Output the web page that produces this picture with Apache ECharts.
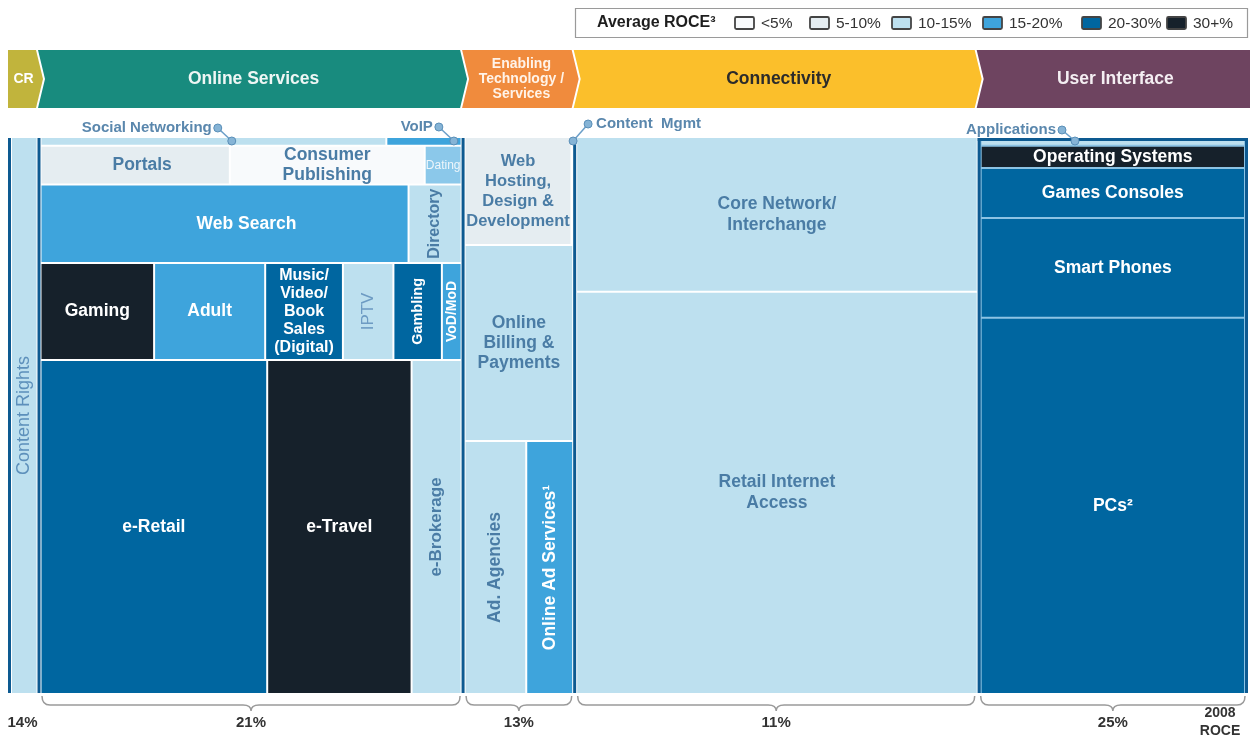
<!DOCTYPE html>
<html>
<head>
<meta charset="utf-8">
<script src="https://cdn.jsdelivr.net/npm/echarts/dist/echarts.min.js"></script>
<style>
  html, body { margin: 0; padding: 0; background: #fff; }
  #chart { width: 1250px; height: 740px; }
</style>
</head>
<body>
<div id="chart"></div>
<script>
const FONT = '"Liberation Sans", Arial, sans-serif';

// ROCE bands (legend)
const bandLabels = ['<5%', '5-10%', '10-15%', '15-20%', '20-30%', '30+%'];
const bandColors = ['#f8fafc', '#e5edf1', '#bde0ef', '#3ea4dc', '#0066a0', '#16212b'];

// value-chain segments
const segments = ['CR', 'Online Services', 'Enabling\nTechnology /\nServices', 'Connectivity', 'User Interface'];
const segmentWidth = [2.5, 34.2, 9.0, 32.5, 21.8];   // share of total width (%)
const segmentRoce = ['14%', '21%', '13%', '11%', '25%'];
const headerColors = ['#c1b43c', '#188b7e', '#f08b3d', '#fbbf2b', '#6e4460'];
const headerTextColors = ['#ffffff', '#eef6f4', '#fff3e8', '#2b2b2b', '#f4eef2'];

// each column: row heights (% of column) and cells per row [name, relative width, ROCE band]
const crRows = [100];
const crCells = [
  [['Content Rights', 1, 2]]
];

const onlineRows = [1.4, 7.0, 14.1, 17.5, 60.0];
const onlineCells = [
  [['Social Networking', 344, 2], ['VoIP', 76, 3]],
  [['Portals', 189, 1], ['Consumer\nPublishing', 193, 0], ['Dating', 38, 3]],
  [['Web Search', 366, 3], ['Directory', 54, 2]],
  [['Gaming', 114, 5], ['Adult', 110, 3], ['Music/\nVideo/\nBook\nSales\n(Digital)', 77, 4], ['IPTV', 50, 2], ['Gambling', 48, 4], ['VoD/MoD', 21, 3]],
  [['e-Retail', 226, 4], ['e-Travel', 143, 5], ['e-Brokerage', 51, 2]]
];

const enablingRows = [19.3, 35.3, 45.4];
const enablingCells = [
  [['Web\nHosting,\nDesign &\nDevelopment', 103, 1], ['Content Mgmt', 3, 0]],
  [['Online\nBilling &\nPayments', 1, 2]],
  [['Ad. Agencies', 60, 2], ['Online Ad Services¹', 46, 3]]
];

const connectivityRows = [27.7, 72.3];
const connectivityCells = [
  [['Core Network/\nInterchange', 1, 2]],
  [['Retail Internet\nAccess', 1, 2]]
];

const uiRows = [1.4, 4.0, 9.0, 18.0, 67.6];
const uiCells = [
  [['Applications', 1, 2]],
  [['Operating Systems', 1, 5]],
  [['Games Consoles', 1, 4]],
  [['Smart Phones', 1, 4]],
  [['PCs²', 1, 4]]
];

// small segments labelled outside: [label, cell, position along the cell]
const callouts = [
  ['Social Networking', 'Social Networking', 0.555],
  ['VoIP', 'VoIP', 0.88],
  ['Content  Mgmt', 'Content Mgmt', 0.5],
  ['Applications', 'Applications', 0.36]
];

// ---- layout in data units (x: % of width, y: % of height) ----
const columnRows = [crRows, onlineRows, enablingRows, connectivityRows, uiRows];
const columnCells = [crCells, onlineCells, enablingCells, connectivityCells, uiCells];
const colStart = [];
segmentWidth.reduce((acc, w, i) => { colStart[i] = acc; return acc + w; }, 0);

const cellList = [];
columnCells.forEach((rows, c) => {
  const rowTotal = columnRows[c].reduce((a, b) => a + b, 0);
  let y = 0;
  rows.forEach((row, r) => {
    const h = columnRows[c][r] / rowTotal * 100;
    const wTotal = row.reduce((a, d) => a + d[1], 0);
    let x = colStart[c];
    row.forEach(([name, w, band]) => {
      const cw = w / wTotal * segmentWidth[c];
      cellList.push({ name, band, col: c, row: r, last: r === rows.length - 1, value: [x, x + cw, y, y + h] });
      x += cw;
    });
    y += h;
  });
});

const hiddenLabels = callouts.map(c => c[1]);
const labelStyle = {
  'Content Rights': { rotate: true, size: 18, weight: 'normal', color: '#5d90bb' },
  'Portals': { dx: 7 },
  'Web Search': { dx: 22 },
  'Dating': { size: 12, color: '#eef6fb', weight: 'normal' },
  'Directory': { rotate: true, size: 16 },
  'Music/\nVideo/\nBook\nSales\n(Digital)': { size: 16, lh: 18 },
  'IPTV': { rotate: true, size: 17, weight: 'normal', color: '#6d9bc3' },
  'Gambling': { rotate: true, size: 14.5 },
  'VoD/MoD': { rotate: true, size: 14 },
  'e-Brokerage': { rotate: true, size: 17 },
  'Ad. Agencies': { rotate: true, size: 17.5 },
  'Online Ad Services¹': { rotate: true, size: 17.5 },
  'Web\nHosting,\nDesign &\nDevelopment': { size: 16.5, lh: 20 },
  'Online\nBilling &\nPayments': { size: 17.5, lh: 20 },
  'Consumer\nPublishing': { size: 17.5, lh: 20 },
  'Core Network/\nInterchange': { size: 17.5, lh: 21 },
  'Retail Internet\nAccess': { size: 17.5, lh: 21 }
};

const padL = [3, 1.5, 1.5, 1.5, 3];
const padR = [1.5, 1.5, 1.5, 0, 3];
const padT = [0, 0, 0, 0, 3];
const DARK = '#0d5a91';

function colPx(api, c) {
  const a = api.coord([colStart[c], 0]);
  const b = api.coord([colStart[c] + segmentWidth[c], 100]);
  return { left: a[0], right: b[0], top: a[1], bottom: b[1] };
}

function renderCell(params, api) {
  const d = cellList[params.dataIndex];
  const col = colPx(api, d.col);
  const a = api.coord([d.value[0], d.value[2]]);
  const b = api.coord([d.value[1], d.value[3]]);
  const left = Math.max(a[0], col.left + padL[d.col]) + 1;
  const right = Math.min(b[0], col.right - padR[d.col]) - 1;
  const top = d.row === 0 ? col.top + padT[d.col] : a[1] + 1;
  const bottom = d.last ? b[1] : b[1] - 1;
  const st = labelStyle[d.name] || {};
  const children = [{
    type: 'rect',
    shape: { x: left, y: top, width: Math.max(0, right - left), height: Math.max(0, bottom - top) },
    style: { fill: bandColors[d.band], opacity: d.name === 'Dating' ? 0.6 : 1 }
  }];
  if (hiddenLabels.indexOf(d.name) < 0) {
    const size = st.size || 17.5;
    children.push({
      type: 'text',
      x: (left + right) / 2 + (st.dx || 0),
      y: (top + bottom) / 2,
      rotation: st.rotate ? Math.PI / 2 : 0,
      style: {
        text: d.name,
        fill: st.color || (d.band <= 2 ? '#4a7ca5' : '#ffffff'),
        fontFamily: FONT, fontSize: size, fontWeight: st.weight || 'bold',
        lineHeight: st.lh || Math.round(size * 1.2),
        align: 'center', verticalAlign: 'middle'
      }
    });
  }
  return { type: 'group', children };
}

function renderBackground(params, api) {
  const ui = colPx(api, 4);
  return {
    type: 'rect',
    shape: { x: ui.left, y: ui.top, width: ui.right - ui.left, height: ui.bottom - ui.top },
    style: { fill: '#8cc3e4' }
  };
}

function renderFrames(params, api) {
  const top = colPx(api, 0).top, bottom = colPx(api, 0).bottom;
  const vline = x => ({ type: 'rect', shape: { x: x - 1.5, y: top, width: 3, height: bottom - top }, style: { fill: DARK } });
  const ui = colPx(api, 4);
  return {
    type: 'group',
    children: [
      vline(colPx(api, 0).left + 1.5),
      vline(colPx(api, 1).left),
      vline(colPx(api, 2).left),
      vline(colPx(api, 3).left),
      vline(ui.left + 1.5),
      vline(ui.right - 1.5),
      { type: 'rect', shape: { x: ui.left, y: ui.top, width: ui.right - ui.left, height: 3 }, style: { fill: DARK } }
    ]
  };
}

function renderHeader(params, api) {
  const i = params.dataIndex, last = segments.length - 1;
  const a = api.coord([api.value(0), 0]);
  const b = api.coord([api.value(1), 0]);
  const top = a[1] - 88, bottom = a[1] - 30, mid = (top + bottom) / 2;
  const x0 = a[0], x1 = b[0];
  const pts = [];
  if (i === 0) pts.push([x0, bottom], [x0, top]);
  else pts.push([x0 - 1, bottom], [x0 + 6, mid], [x0 - 1, top]);
  if (i === last) pts.push([x1 + 2, top], [x1 + 2, bottom]);
  else pts.push([x1 - 3, top], [x1 + 4, mid], [x1 - 3, bottom]);
  const small = i === 0 || i === 2;
  return {
    type: 'group',
    children: [
      { type: 'polygon', shape: { points: pts }, style: { fill: headerColors[i] } },
      {
        type: 'text', x: (x0 + (i ? 5 : 0) + x1) / 2, y: mid,
        style: {
          text: segments[i], fill: headerTextColors[i], fontFamily: FONT,
          fontSize: small ? 14 : 17.5, fontWeight: 'bold', lineHeight: 15,
          align: 'center', verticalAlign: 'middle'
        }
      }
    ]
  };
}

function renderBrace(params, api) {
  const i = params.dataIndex;
  const a = api.coord([api.value(0), 100]);
  const b = api.coord([api.value(1), 100]);
  const x0 = a[0] + 3, x1 = b[0] - 3, m = (x0 + x1) / 2, g = a[1];
  const y0 = g + 3, y1 = g + 12, y2 = g + 18;
  const children = [];
  if (i > 0) {
    const d = 'M' + x0 + ' ' + y0 + ' Q' + x0 + ' ' + y1 + ' ' + (x0 + 8) + ' ' + y1 +
      ' L' + (m - 8) + ' ' + y1 + ' Q' + m + ' ' + y1 + ' ' + m + ' ' + y2 +
      ' Q' + m + ' ' + y1 + ' ' + (m + 8) + ' ' + y1 +
      ' L' + (x1 - 8) + ' ' + y1 + ' Q' + x1 + ' ' + y1 + ' ' + x1 + ' ' + y0;
    children.push({ type: 'path', shape: { pathData: d }, style: { fill: 'none', stroke: '#9a9a9a', lineWidth: 1.5 } });
  }
  children.push({
    type: 'text', x: i === 0 ? (x0 + x1) / 2 - 1 : m, y: g + 30,
    style: { text: segmentRoce[i], fill: '#333', fontFamily: FONT, fontSize: 15, fontWeight: 'bold', align: 'center', verticalAlign: 'middle' }
  });
  if (i === segments.length - 1) {
    children.push({
      type: 'text', x: b[0] - 28, y: g + 29,
      style: { text: '2008\nROCE', fill: '#333', fontFamily: FONT, fontSize: 14, fontWeight: 'bold', lineHeight: 18, align: 'center', verticalAlign: 'middle' }
    });
  }
  return { type: 'group', children };
}

const calloutOffset = [[-14, -13], [-15, -14], [15, -17], [-13, -11]];
const calloutAlign = ['right', 'right', 'left', 'right'];
const calloutData = callouts.map(([label, cellName, frac]) => {
  const c = cellList.find(d => d.name === cellName);
  return { name: label, value: [c.value[0] + frac * (c.value[1] - c.value[0]), c.value[2]] };
});

function renderCallout(params, api) {
  const i = params.dataIndex;
  const p = api.coord([api.value(0), api.value(1)]);
  const tx = p[0], ty = p[1] + 3;
  const cx = tx + calloutOffset[i][0], cy = ty + calloutOffset[i][1];
  const right = calloutAlign[i] === 'right';
  const dot = (x, y) => ({ type: 'circle', shape: { cx: x, cy: y, r: 4 }, style: { fill: '#86b4d6', stroke: '#5a8fb8', lineWidth: 1 } });
  return {
    type: 'group',
    children: [
      { type: 'line', shape: { x1: cx, y1: cy, x2: tx, y2: ty }, style: { stroke: '#6a9ec8', lineWidth: 1.5 } },
      dot(cx, cy), dot(tx, ty),
      {
        type: 'text', x: right ? cx - 6 : cx + 8, y: cy,
        style: { text: callouts[i][0], fill: '#5a87ad', fontFamily: FONT, fontSize: 15, fontWeight: 'bold', align: right ? 'right' : 'left', verticalAlign: 'middle' }
      }
    ]
  };
}

// legend drawn as graphic elements
const legendBoxX = [735, 810, 892, 983, 1082, 1167];
const legendGraphic = [
  { type: 'rect', shape: { x: 575.5, y: 8.5, width: 672, height: 29 }, style: { fill: '#fff', stroke: '#9a9a9a', lineWidth: 1.2 } },
  { type: 'text', x: 597, y: 23, style: { text: 'Average ROCE³', fill: '#1e1e1e', font: 'bold 16px ' + FONT, verticalAlign: 'middle' } }
];
bandLabels.forEach((lab, i) => {
  legendGraphic.push({ type: 'rect', shape: { x: legendBoxX[i], y: 17, width: 19, height: 12, r: 1.5 }, style: { fill: bandColors[i], stroke: '#444', lineWidth: 1.8 } });
  legendGraphic.push({ type: 'text', x: legendBoxX[i] + 26, y: 23.5, style: { text: lab, fill: '#333', font: '15.5px ' + FONT, verticalAlign: 'middle' } });
});

const chart = echarts.init(document.getElementById('chart'));
chart.setOption({
  animation: false,
  backgroundColor: '#ffffff',
  grid: { left: 8, top: 138, width: 1240, height: 555 },
  xAxis: { type: 'value', min: 0, max: 100, show: false },
  yAxis: { type: 'value', min: 0, max: 100, inverse: true, show: false },
  graphic: legendGraphic,
  series: [
    { type: 'custom', renderItem: renderBackground, data: [[0, 0]], silent: true },
    { type: 'custom', renderItem: renderCell, data: cellList.map(d => ({ name: d.name, value: d.value })) },
    { type: 'custom', renderItem: renderFrames, data: [[0, 0]], silent: true },
    { type: 'custom', renderItem: renderHeader, data: segments.map((s, i) => ({ name: s, value: [colStart[i], colStart[i] + segmentWidth[i]] })) },
    { type: 'custom', renderItem: renderBrace, data: segments.map((s, i) => ({ name: s, value: [colStart[i], colStart[i] + segmentWidth[i]] })) },
    { type: 'custom', renderItem: renderCallout, data: calloutData }
  ]
});
</script>
</body>
</html>
